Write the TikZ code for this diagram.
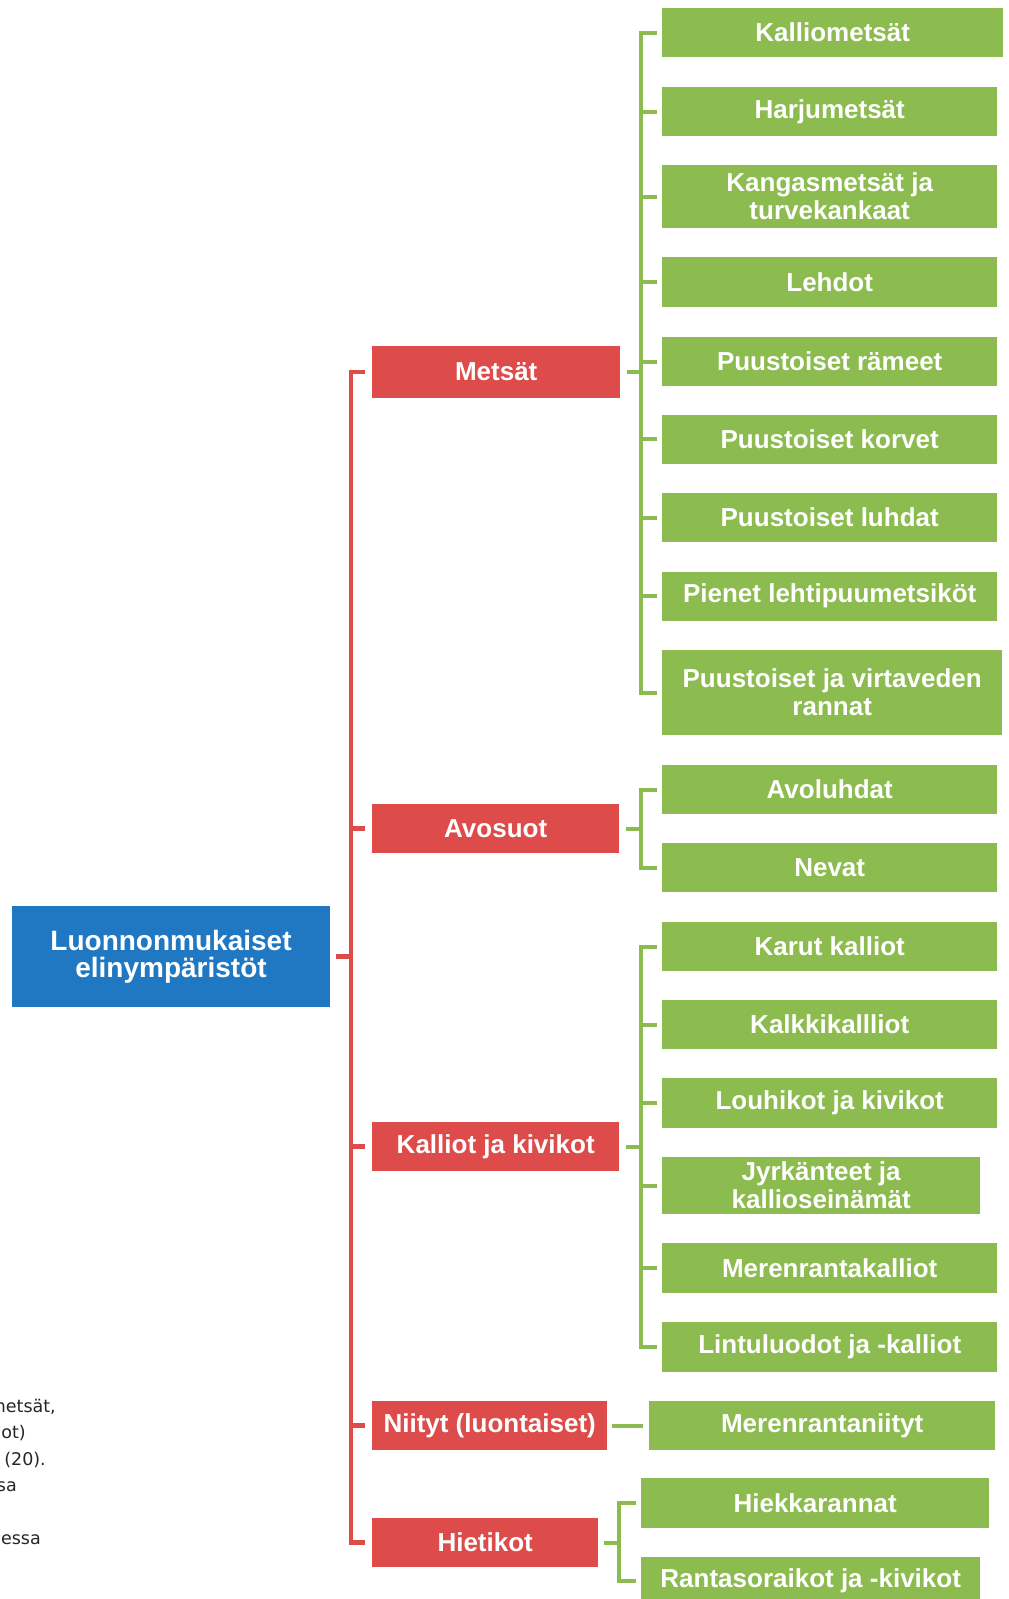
\documentclass[tikz,border=0pt]{standalone}
\usepackage{fontspec}
\setmainfont{Liberation Sans}
\newfontfamily\fragfont{DejaVu Sans}
\definecolor{habblue}{HTML}{1F78C1}
\definecolor{habred}{HTML}{DE4B4B}
\definecolor{habgreen}{HTML}{8CBB4F}
\definecolor{fragtext}{HTML}{262626}
\begin{document}
\begin{tikzpicture}[x=1pt,y=-1pt,
    box/.style={inner sep=0pt, align=center, text=white, font=\bfseries\fontsize{26}{28}\selectfont},
    rootbox/.style={box, fill=habblue, font=\bfseries\fontsize{28}{27}\selectfont},
    redbox/.style={box, fill=habred, anchor=west, minimum height=49pt},
    greenbox/.style={box, fill=habgreen, anchor=west, minimum width=335pt, minimum height=49pt},
    redline/.style={draw=habred, line width=4.5pt},
    greenline/.style={draw=habgreen, line width=4pt},
    frag/.style={anchor=base east, inner sep=0pt, text=fragtext, font=\fragfont\fontsize{17.5}{26}\selectfont}]
    \useasboundingbox[fill=white] (0,0) rectangle (1009,1599);
    \node[rootbox, minimum width=318pt, minimum height=101pt] (root) at (171,956.5) {Luonnonmukaiset\\elinympäristöt};
    \node[redbox, minimum width=248pt, minimum height=52pt] (metsat) at (372,372) {Metsät};
    \node[redbox, minimum width=247pt] (avosuot) at (372,828.5) {Avosuot};
    \node[redbox, minimum width=247pt] (kalliot) at (372,1146.5) {Kalliot ja kivikot};
    \node[redbox, minimum width=235pt] (niityt) at (372,1425.5) {Niityt (luontaiset)};
    \node[redbox, minimum width=226pt] (hietikot) at (372,1542.5) {Hietikot};
    % metsät
    \node[greenbox, minimum width=341pt] (kalliomet) at (662,32.5) {Kalliometsät};
    \node[greenbox] (harju) at (662,111.5) {Harjumetsät};
    \node[greenbox, minimum height=63pt] (kangas) at (662,196.5) {Kangasmetsät ja\\turvekankaat};
    \node[greenbox, minimum height=50pt] (lehdot) at (662,282) {Lehdot};
    \node[greenbox] (rameet) at (662,361.5) {Puustoiset rämeet};
    \node[greenbox] (korvet) at (662,439) {Puustoiset korvet};
    \node[greenbox] (luhdat) at (662,517.5) {Puustoiset luhdat};
    \node[greenbox] (pienet) at (662,596) {Pienet lehtipuumetsiköt};
    \node[greenbox, minimum width=340pt, minimum height=85pt] (rannat) at (662,692.5) {Puustoiset ja virtaveden\\rannat};
    % avosuot
    \node[greenbox] (avoluhdat) at (662,789.5) {Avoluhdat};
    \node[greenbox] (nevat) at (662,867.5) {Nevat};
    % kalliot
    \node[greenbox] (karut) at (662,946.5) {Karut kalliot};
    \node[greenbox] (kalkki) at (662,1024.5) {Kalkkikallliot};
    \node[greenbox, minimum height=50pt] (louhikot) at (662,1103) {Louhikot ja kivikot};
    \node[greenbox, minimum width=318pt, minimum height=57pt] (jyrk) at (662,1185.5) {Jyrkänteet ja\\kallioseinämät};
    \node[greenbox, minimum height=50pt] (merenrk) at (662,1268) {Merenrantakalliot};
    \node[greenbox, minimum height=50pt] (lintu) at (662,1347) {Lintuluodot ja -kalliot};
    % niityt, hietikot
    \node[greenbox, minimum width=346pt] (merenrn) at (649,1425.5) {Merenrantaniityt};
    \node[greenbox, minimum width=348pt, minimum height=50pt] (hiekka) at (641,1503) {Hiekkarannat};
    \node[greenbox, minimum width=339pt] (ranta) at (641,1581) {Rantasoraikot ja -kivikot};

    \draw[redline] ([xshift=-7pt]metsat.west) -| ([xshift=-21pt]hietikot.west) -- ([xshift=-7pt]hietikot.west);
    \foreach \n in {avosuot,kalliot,niityt}
        \draw[redline] ([xshift=-7pt]\n.west) -- ++(-14,0);
    \draw[redline] ([xshift=6pt]root.east) -- ++(15,0);

    \draw[greenline] ([xshift=-5pt]kalliomet.west) -| ([xshift=-21pt]rannat.west) -- ([xshift=-5pt]rannat.west);
    \foreach \n in {harju,kangas,lehdot,rameet,korvet,luhdat,pienet}
        \draw[greenline] ([xshift=-5pt]\n.west) -- ++(-16,0);
    \draw[greenline] ([xshift=7pt]metsat.east) -- ++(14,0);

    \draw[greenline] ([xshift=-5pt]avoluhdat.west) -| ([xshift=-21pt]nevat.west) -- ([xshift=-5pt]nevat.west);
    \draw[greenline] ([xshift=7pt]avosuot.east) -- ++(15,0);

    \draw[greenline] ([xshift=-5pt]karut.west) -| ([xshift=-21pt]lintu.west) -- ([xshift=-5pt]lintu.west);
    \foreach \n in {kalkki,louhikot,jyrk,merenrk}
        \draw[greenline] ([xshift=-5pt]\n.west) -- ++(-16,0);
    \draw[greenline] ([xshift=7pt]kalliot.east) -- ++(15,0);

    \draw[greenline] ([xshift=5pt]niityt.east) -- ([xshift=-6pt]merenrn.west);

    \draw[greenline] ([xshift=-5pt]hiekka.west) -| ([xshift=-22pt]ranta.west) -- ([xshift=-5pt]ranta.west);
    \draw[greenline] ([xshift=6pt]hietikot.east) -- ++(15,0);

    \node[frag] (frag1) at (56,1412) {metsät,};
    \node[frag] (frag2) at (26,1438) {ot)};
    \node[frag] (frag3) at (46,1465) {(20).};
    \node[frag] (frag4) at (17,1491) {sa};
    \node[frag] (frag5) at (41,1544) {essa};
\end{tikzpicture}
\end{document}
